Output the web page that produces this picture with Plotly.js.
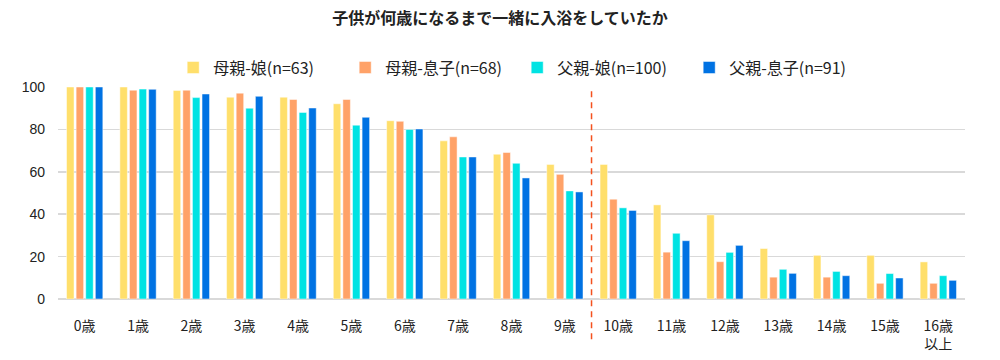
<!DOCTYPE html>
<html>
<head>
<meta charset="utf-8">
<script src="https://cdn.plot.ly/plotly-3.0.1.min.js"></script>
<style>html,body{margin:0;padding:0;background:#fff;}#chart{width:1000px;height:360px;}</style>
</head>
<body>
<div id="chart"></div>
<script>
const categories = ["0歳","1歳","2歳","3歳","4歳","5歳","6歳","7歳","8歳","9歳","10歳","11歳","12歳","13歳","14歳","15歳","16歳<br>以上"];
const seriesNames = ["母親-娘(n=63)","母親-息子(n=68)","父親-娘(n=100)","父親-息子(n=91)"];
const motherDaughter = [100,100,98.4,95.2,95.2,92.1,84.1,74.6,68.3,63.5,63.5,44.4,39.7,23.8,20.6,20.6,17.5];
const motherSon = [100,98.5,98.5,97.1,94.1,94.1,83.8,76.5,69.1,58.8,47.1,22.1,17.6,10.3,10.3,7.4,7.4];
const fatherDaughter = [100,99,95,90,88,82,80,67,64,51,43,31,22,14,13,12,11];
const fatherSon = [100,98.9,96.7,95.6,90.1,85.7,80.2,67.0,57.1,50.5,41.8,27.5,25.3,12.1,11.0,9.9,8.8];
const colors = ["#FFDF6B","#FFA268","#00E3E3","#0072E3"];
const yTicks = [0,20,40,60,80,100];
const dividerAt = 9.5;

const allValues = [motherDaughter, motherSon, fatherDaughter, fatherSon];
const traces = allValues.map((vals, i) => ({
  type: "bar",
  name: seriesNames[i],
  x: categories,
  y: vals,
  marker: {color: colors[i], line: {color: "rgba(255,255,255,0.6)", width: 0.8}},
  hoverinfo: "none"
}));

const font = "'Noto Sans CJK JP', 'Noto Sans', sans-serif";
const layout = {
  width: 1000, height: 360,
  margin: {l: 58, r: 35, t: 87, b: 61},
  paper_bgcolor: "#fff", plot_bgcolor: "#fff",
  barmode: "group", bargap: 0.28, bargroupgap: 0.22,
  title: {text: "<b>子供が何歳になるまで一緒に入浴をしていたか</b>", x: 0.5, xanchor: "center", y: 0.948, yanchor: "middle", font: {family: font, size: 16, color: "#222"}},
  showlegend: true,
  legend: {orientation: "h", x: 0.127, xanchor: "left", y: 0.765, yanchor: "bottom", yref: "container", font: {family: font, size: 16, color: "#222"}, traceorder: "normal", itemwidth: 30, entrywidth: 127, entrywidthmode: "pixels"},
  xaxis: {type: "category", tickfont: {family: font, size: 14, color: "#222"}, showgrid: false, showline: false, ticks: "", ticklabelstandoff: 17, fixedrange: true},
  yaxis: {range: [0, 100], tickvals: yTicks, ticktext: yTicks.map(String), tickfont: {family: "'Liberation Sans', Arial, sans-serif", size: 14, color: "#222"}, showgrid: true, gridcolor: "#D9D9D9", gridwidth: 1.5, zeroline: true, zerolinecolor: "#D9D9D9", zerolinewidth: 1.5, showline: false, ticks: "", ticklabelstandoff: 12, fixedrange: true},
  shapes: [{type: "line", xref: "x", yref: "paper", x0: dividerAt, x1: dividerAt, y0: -0.19, y1: 1.0, line: {color: "#F4511E", width: 1.5, dash: "6px,5px"}}]
};
Plotly.newPlot("chart", traces, layout, {displayModeBar: false, staticPlot: true});
</script>
</body>
</html>
